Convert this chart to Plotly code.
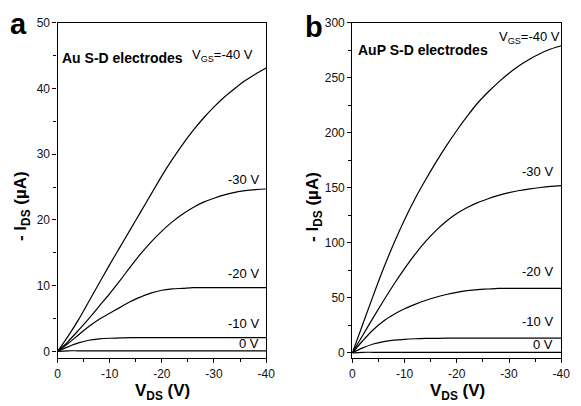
import plotly.graph_objects as go

# ---------------- data ----------------
vds = [0, -2, -4, -6, -8, -10, -12, -14, -16, -18, -20, -22, -24, -26, -28, -30, -32, -34, -36, -38, -40]

# panel a: Au S-D electrodes, -I_DS (uA)
a_vgs_m40 = [0, 2.3, 4.8, 7.6, 10.4, 13.2, 15.9, 18.6, 21.3, 24.0, 26.7, 29.2, 31.5, 33.6, 35.5, 37.2, 38.7, 40.0, 41.2, 42.2, 43.1]
a_vgs_m30 = [0, 1.5, 3.2, 5.0, 6.9, 8.8, 10.8, 12.9, 14.9, 16.7, 18.3, 19.7, 20.9, 21.9, 22.7, 23.3, 23.8, 24.2, 24.45, 24.6, 24.7]
a_vgs_m20 = [0, 1.2, 2.5, 3.8, 4.9, 5.8, 6.7, 7.6, 8.3, 8.9, 9.3, 9.5, 9.6, 9.7, 9.7, 9.7, 9.7, 9.7, 9.7, 9.7, 9.7]
a_vgs_m10 = [0, 0.7, 1.3, 1.7, 1.9, 2.0, 2.05, 2.1, 2.1, 2.1, 2.1, 2.1, 2.1, 2.1, 2.1, 2.1, 2.1, 2.1, 2.1, 2.1, 2.1]
a_vgs_0 = [0, 0.1, 0.1, 0.1, 0.1, 0.1, 0.1, 0.1, 0.1, 0.1, 0.1, 0.1, 0.1, 0.1, 0.1, 0.1, 0.1, 0.1, 0.1, 0.1, 0.1]

# panel b: AuP S-D electrodes, -I_DS (uA)
b_vgs_m40 = [0, 26, 52, 77, 100, 121, 140, 157, 173, 188, 202, 215, 227, 237, 246, 254, 261, 267, 272, 276, 279]
b_vgs_m30 = [0, 16, 32, 47.5, 62.5, 76.5, 89.5, 101, 111, 119.5, 126.5, 132, 136.5, 140, 143, 145.5, 147.5, 149, 150.2, 151.2, 152]
b_vgs_m20 = [0, 11, 21, 29, 35, 40, 44, 47.5, 50.5, 53, 55, 56.5, 57.5, 58, 58.5, 58.6, 58.6, 58.6, 58.6, 58.6, 58.6]
b_vgs_m10 = [0, 4.5, 8, 10.2, 11.5, 12.3, 12.8, 13.1, 13.2, 13.3, 13.3, 13.3, 13.3, 13.3, 13.3, 13.3, 13.3, 13.3, 13.3, 13.3, 13.3]
b_vgs_0 = [0, 0.5, 0.5, 0.5, 0.5, 0.5, 0.5, 0.5, 0.5, 0.5, 0.5, 0.5, 0.5, 0.5, 0.5, 0.5, 0.5, 0.5, 0.5, 0.5, 0.5]

x_ticks = [0, -10, -20, -30, -40]
x_tick_labels = ["0", "-10", "-20", "-30", "-40"]
a_y_ticks = [0, 10, 20, 30, 40, 50]
b_y_ticks = [0, 50, 100, 150, 200, 250, 300]

a_labels = ["-30 V", "-20 V", "-10 V", "0 V"]
b_labels = ["-30 V", "-20 V", "-10 V", "0 V"]

# ---------------- figure ----------------
W, H = 581, 406
FONT = "Arial, Liberation Sans, sans-serif"

def px(xp):
    return xp / W

def py(yp):
    return 1 - yp / H

fig = go.Figure()
line = dict(color="black", width=1.2)
for ys in [a_vgs_m40, a_vgs_m30, a_vgs_m20, a_vgs_m10, a_vgs_0]:
    fig.add_trace(go.Scatter(x=vds, y=ys, mode="lines", line=line, xaxis="x", yaxis="y",
                             showlegend=False, line_shape="spline"))
for ys in [b_vgs_m40, b_vgs_m30, b_vgs_m20, b_vgs_m10, b_vgs_0]:
    fig.add_trace(go.Scatter(x=vds, y=ys, mode="lines", line=line, xaxis="x2", yaxis="y2",
                             showlegend=False, line_shape="spline"))

ax_common = dict(showline=True, mirror=True, linecolor="black", linewidth=1.3,
                 showgrid=False, zeroline=False, ticks="outside", ticklen=4,
                 tickcolor="black", tickwidth=1,
                 tickfont=dict(family=FONT, size=12, color="#111"))

ydom = [py(359.3), py(16)]
fig.update_layout(
    width=W, height=H, margin=dict(l=0, r=0, t=0, b=0),
    paper_bgcolor="white", plot_bgcolor="white",
    xaxis=dict(domain=[px(55.7), px(268.7)], range=[0, -40], anchor="y",
               tickvals=x_ticks, ticktext=x_tick_labels,
               minor=dict(ticks="outside", ticklen=3, dtick=5, tickcolor="black"),
               **ax_common),
    yaxis=dict(domain=ydom, range=[-1.05, 50], anchor="x",
               tickvals=a_y_ticks, ticktext=[str(v) for v in a_y_ticks],
               minor=dict(ticks="outside", ticklen=3, dtick=5, tickcolor="black"),
               **ax_common),
    xaxis2=dict(domain=[px(356.7), px(570)], range=[0, -40], anchor="y2",
                tickvals=x_ticks, ticktext=x_tick_labels,
                minor=dict(ticks="outside", ticklen=3, dtick=5, tickcolor="black"),
                **ax_common),
    yaxis2=dict(domain=ydom, range=[-5, 300], anchor="x2",
                tickvals=b_y_ticks, ticktext=[str(v) for v in b_y_ticks],
                minor=dict(ticks="outside", ticklen=3, dtick=25, tickcolor="black"),
                **ax_common),
)

ann = []
def add(text, xp, yp, size=12, bold=False, xanchor="left", yanchor="middle", angle=0):
    t = "<b>%s</b>" % text if bold else text
    ann.append(dict(text=t, x=px(xp), y=py(yp), xref="paper", yref="paper",
                    xanchor=xanchor, yanchor=yanchor, showarrow=False, textangle=angle,
                    font=dict(family=FONT, size=size, color="black")))

# panel letters
add("a", 5, 17, size=29, bold=True)
add("b", 306, 20, size=29, bold=True)
# panel texts
add("Au S-D electrodes", 58, 52, size=14, bold=True)
add("V<sub>GS</sub>=-40 V", 191, 50, size=13)
add("AuP S-D electrodes", 360, 44, size=14, bold=True)
add("V<sub>GS</sub>=-40 V", 504, 31, size=13)
# curve labels (right aligned)
for lab, yp in zip(a_labels, [176, 273, 324, 344]):
    add(lab, 263, yp, size=13, xanchor="right")
for lab, yp in zip(b_labels, [168, 271, 322, 345]):
    add(lab, 564, yp, size=13, xanchor="right")
# axis titles
add("V<sub>DS</sub> (V)", 163, 394, size=17, bold=True, xanchor="center")
add("V<sub>DS</sub> (V)", 464, 394, size=17, bold=True, xanchor="center")
add("- I<sub>DS</sub> (µA)", 20, 204, size=17, bold=True, xanchor="center", angle=-90)
add("- I<sub>DS</sub> (µA)", 318, 204, size=17, bold=True, xanchor="center", angle=-90)

fig.update_layout(annotations=ann)
fig.write_html("out.html")
